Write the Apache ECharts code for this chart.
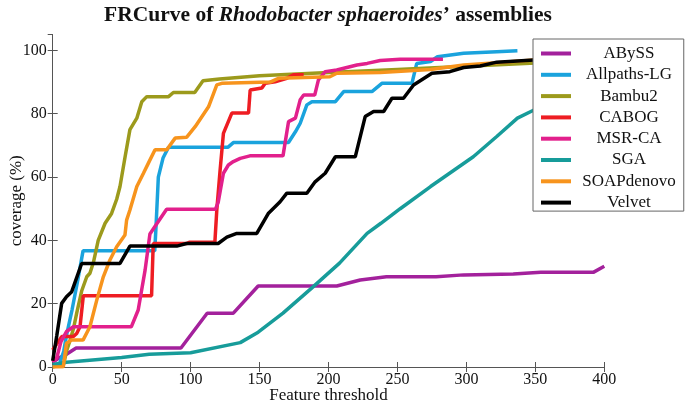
<!DOCTYPE html>
<html>
<head>
<meta charset="utf-8">
<script src="https://cdn.jsdelivr.net/npm/echarts@6/dist/echarts.min.js"></script>
<style>html,body{margin:0;padding:0;background:#fff;}#c{width:685px;height:401px;}</style>
</head>
<body>
<div id="c"></div>
<script>
const seriesNames = ['ABySS','Allpaths-LG','Bambu2','CABOG','MSR-CA','SGA','SOAPdenovo','Velvet'];
const seriesColors = ['#a3219c','#1aa3dd','#9c9a1c','#ee1d23','#e2208c','#179c9a','#f7941d','#000000'];
const xTicks = {min:0, max:400, interval:50};
const yTicks = {min:0, max:105, interval:20};

const abyss = [[0,1.5],[5,3],[10,4],[17,6],[93,6],[112,17],[131,17],[149,25.6],[206,25.6],[223,27.5],[242,28.5],[278,28.5],[298,29.1],[334,29.4],[354,29.9],[392,29.9],[400,31.8]];
const allpaths = [[0,0],[5,1],[8,5],[10,10],[14,18],[18,27],[22,36.7],[74,36.7],[75,45],[76.6,60],[80,66],[84,69.4],[127,69.4],[131,70.9],[171,70.9],[176,74.3],[179.5,77],[184.3,82.8],[188,83.8],[205,83.8],[211,87],[231.5,87],[238.7,89.6],[260.5,89.6],[264,95.9],[274,96.5],[279,98],[298,99.1],[322,99.6],[337,99.9]];
const bambu2 = [[0,0],[8,1],[10,5],[12.6,8.5],[15,12],[17.4,17],[21,24],[24.7,28.5],[27,29.6],[29.5,33],[33,40],[38,45.4],[42.7,48.5],[46.4,53],[48.8,57],[52.5,66.4],[56,75],[61,78.6],[64.6,83.8],[68.2,85.4],[84,85.4],[87.5,86.7],[103,86.7],[109,90.4],[121,91],[150,92],[200,93],[250,94],[300,95],[350,96]];
const cabog = [[0,5.4],[6.5,9.6],[15,9.6],[17.4,10.6],[19.8,12.7],[22.2,22.5],[71.7,22.5],[72.9,39],[97,39],[99,39.4],[117.6,39.4],[119,49.6],[121.4,62.2],[123.8,73.8],[129.9,80.2],[142,80.2],[143.2,87.5],[151.7,88.1],[154.1,89.6],[161.3,90.1],[169.8,91.2],[174.6,92.3],[182,92.3]];
const msrca = [[0,1.5],[3,3],[6,8],[10,11.2],[15,12.7],[57,12.7],[62,18],[67,30.6],[70.5,42],[74,44.3],[82.6,49.8],[118,49.8],[120,52],[123.8,61.2],[127.4,63.8],[131,64.9],[136,65.9],[143,66.7],[167,66.7],[171,77.5],[176,78.6],[179.5,84.4],[182,85.9],[190,85.9],[192.7,90.7],[197.6,93.3],[206,93.8],[220.6,95.4],[228,95.9],[237.5,96.8],[252,97.2],[283,97.2]];
const sga = [[0,0.8],[10,1.5],[50,3],[70,4],[100,4.5],[136,7.7],[149,11],[167,17],[189,25.4],[208,32.8],[228,42.2],[238,45.4],[252,50],[274,57],[305,66.4],[322,72.8],[337,78.6],[349,81.2],[375,86],[400,88]];
const soap = [[0,0],[7.7,0.1],[10,7.5],[13.8,8.5],[22,8.5],[27,12.7],[32,21.2],[36.7,28.5],[41.5,33.8],[46.4,38],[52.4,41.7],[53.6,46.4],[56,49.6],[61,57],[65.8,61.2],[69.4,64.4],[74.2,68.6],[82.7,68.6],[88.8,72.3],[97.2,72.6],[103.3,75.9],[113,82.2],[119,89.1],[122.6,89.6],[157.7,90],[163.7,91.2],[201,91.7],[206,92.8],[237.5,93],[274,94],[298,95.4],[322,96.1],[349,97],[400,98]];
const velvet = [[0,2],[3,10],[6.5,20.1],[10,22.2],[13.8,23.8],[21,32.7],[48.8,32.7],[56,38.2],[90,38.2],[97,39],[120,39],[126.3,41],[133.5,42.2],[148,42.2],[156.5,48.6],[164.9,52.2],[169.8,54.9],[184.3,54.9],[190.3,58.5],[197.6,61.2],[205,66.4],[219.4,66.4],[226.6,79.1],[232.7,80.7],[240,80.7],[246,84.9],[254.4,84.9],[261.7,89.1],[275,92.8],[288,93.3],[298,94.6],[310,95.1],[322,96.3],[349,97],[375,97.5],[400,98]];
const allData = [abyss, allpaths, bambu2, cabog, msrca, sga, soap, velvet];

const FONT = '"Liberation Serif", "DejaVu Serif", serif';
const AX = '#555';

const chart = echarts.init(document.getElementById('c'));
const baseX = {type:'value', min:xTicks.min, max:xTicks.max, interval:xTicks.interval,
  axisLine:{show:true, lineStyle:{color:AX, width:1}},
  axisTick:{show:true, inside:true, length:5, lineStyle:{color:AX}},
  splitLine:{show:false}};
const baseY = {type:'value', min:yTicks.min, max:yTicks.max, interval:yTicks.interval,
  axisLine:{show:true, lineStyle:{color:AX, width:1}},
  axisTick:{show:true, inside:true, length:5, lineStyle:{color:AX}},
  splitLine:{show:false}};

chart.setOption({
  animation:false,
  backgroundColor:'#fff',
  title:{
    text:'{a|FRCurve of }{b|Rhodobacter sphaeroides}{a|’ assemblies}',
    left:323, top:-1, textAlign:'center',
    textStyle:{rich:{
      a:{fontFamily:FONT, fontSize:21.5, fontWeight:'bold', color:'#111'},
      b:{fontFamily:FONT, fontSize:21.5, fontWeight:'bold', fontStyle:'italic', color:'#111'}
    }}
  },
  grid:{left:52.7, right:80.7, top:34.6, bottom:34, containLabel:false, outerBoundsMode:'none'},
  xAxis:[
    Object.assign({}, baseX, {position:'bottom', name:'Feature threshold', nameLocation:'middle', nameGap:20,
      nameMoveOverlap:false,
      nameTextStyle:{fontFamily:FONT, fontSize:17, color:'#111'},
      axisLabel:{fontFamily:FONT, fontSize:16, color:'#111', margin:5, showMaxLabel:true}}),
    Object.assign({}, baseX, {position:'top', axisLabel:{show:false}})
  ],
  yAxis:[
    Object.assign({}, baseY, {position:'left', name:'coverage (%)', nameLocation:'middle', nameGap:28,
      nameMoveOverlap:false,
      nameTextStyle:{fontFamily:FONT, fontSize:17, color:'#111'},
      axisLabel:{fontFamily:FONT, fontSize:16, color:'#111', margin:6, showMaxLabel:false}}),
    Object.assign({}, baseY, {position:'right', axisLabel:{show:false}})
  ],
  legend:{
    orient:'vertical', left:533, top:39,
    data:seriesNames,
    icon:'rect', itemWidth:30, itemHeight:4, itemGap:4.3,
    padding:[6,8,0,8],
    backgroundColor:'#fff', borderColor:'#666', borderWidth:1, borderRadius:0,
    formatter:'{t|{name}}',
    textStyle:{fontFamily:FONT, fontSize:17, color:'#111',
      rich:{t:{fontFamily:FONT, fontSize:17, color:'#111', width:106, align:'center'}}},
    z:10
  },
  series: seriesNames.map((n,i)=>({
    name:n, type:'line', data:allData[i], showSymbol:false, symbol:'none',
    lineStyle:{width:3.5, color:seriesColors[i]}, itemStyle:{color:seriesColors[i]},
    clip:true, z:2
  }))
});
</script>
</body>
</html>
